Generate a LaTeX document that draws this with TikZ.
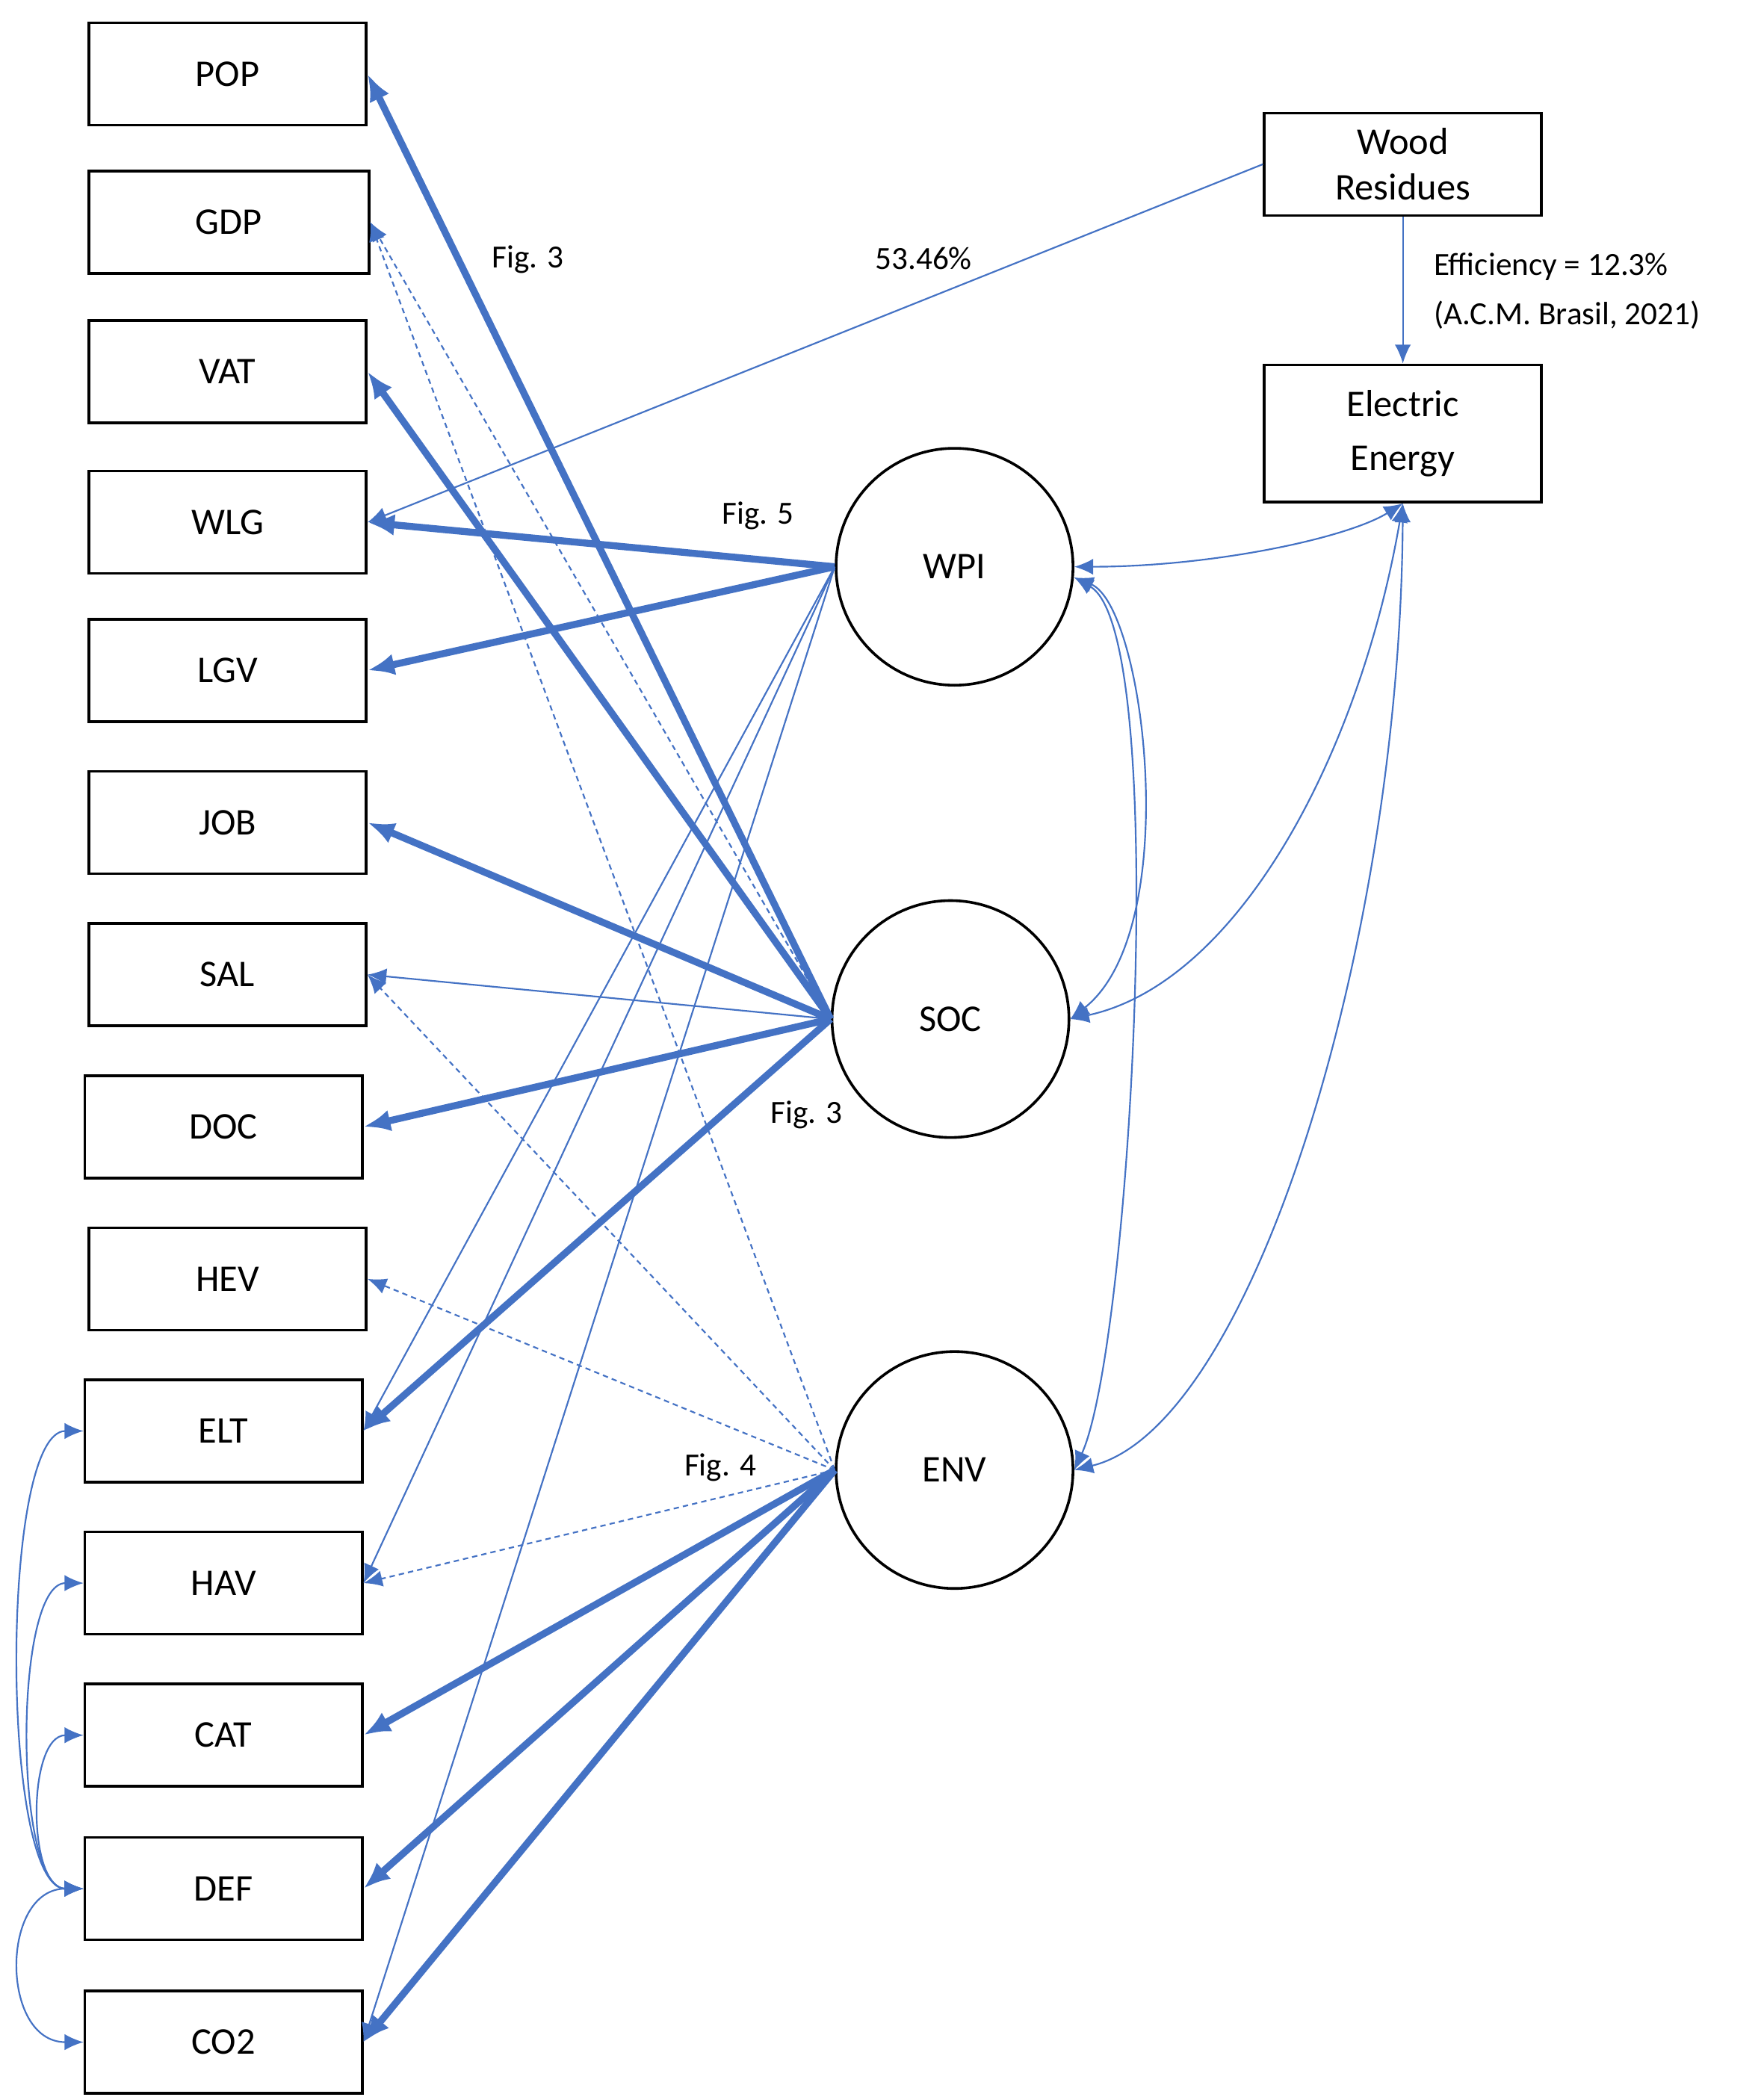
\documentclass[tikz,border=0pt]{standalone}
\usepackage{fontspec}
\setmainfont{Carlito}
\usetikzlibrary{arrows.meta}
\definecolor{lb}{RGB}{68,114,196}
\begin{document}
\begin{tikzpicture}[x=0.5pt,y=-0.5pt,
 box/.style={draw,line width=1pt,minimum width=103pt,minimum height=38pt,inner sep=0pt,font=\fontsize{14}{16}\selectfont},
 circ/.style={draw,circle,line width=1pt,minimum size=88pt,inner sep=0pt,font=\fontsize{14}{16}\selectfont},
 thick/.style={lb,line width=2.6pt,-{Latex[length=10pt,width=8pt]}},
 thin/.style={lb,line width=0.6pt,-{Latex[length=7pt,width=6pt]}},
 dsh/.style={thin,dash pattern=on 2pt off 1.5pt},
 bi/.style={lb,line width=0.6pt,{Latex[length=7pt,width=6pt]}-{Latex[length=7pt,width=6pt]}},
 lab/.style={font=\fontsize{12}{14}\selectfont}]
\useasboundingbox (0,0) rectangle (1310,1560);
\node[box] (POP) at (169,55) {POP};
\node[box,minimum width=104pt] (GDP) at (170,165) {GDP};
\node[box] (VAT) at (169,276) {VAT};
\node[box] (WLG) at (169,388) {WLG};
\node[box] (LGV) at (169,498) {LGV};
\node[box] (JOB) at (169,611) {JOB};
\node[box] (SAL) at (169,724) {SAL};
\node[box] (DOC) at (166,837) {DOC};
\node[box] (HEV) at (169,950) {HEV};
\node[box] (ELT) at (166,1063) {ELT};
\node[box] (HAV) at (166,1176) {HAV};
\node[box] (CAT) at (166,1289) {CAT};
\node[box] (DEF) at (166,1403) {DEF};
\node[box] (CO2) at (166,1517) {CO2};
\node[circ] (WPI) at (709,421) {WPI};
\node[circ] (SOC) at (706,757) {SOC};
\node[circ] (ENV) at (709,1092) {ENV};
\node[box,minimum width=103pt,minimum height=38pt,align=center,font=\fontsize{14}{17}\selectfont] (WR) at (1042,122) {Wood\\Residues};
\node[box,minimum width=103pt,minimum height=51pt,align=center,font=\fontsize{14}{20}\selectfont] (EE) at (1042,322) {Electric\\Energy};
% thick
\draw[thick] (SOC.west) -- (POP.east);
\draw[thick] (SOC.west) -- (VAT.east);
\draw[thick] (WPI.west) -- (WLG.east);
\draw[thick] (WPI.west) -- (LGV.east);
\draw[thick] (SOC.west) -- (JOB.east);
\draw[thick] (SOC.west) -- (DOC.east);
\draw[thick] (SOC.west) -- (ELT.east);
\draw[thick] (ENV.west) -- (CAT.east);
\draw[thick] (ENV.west) -- (DEF.east);
\draw[thick] (ENV.west) -- (CO2.east);
% thin
\draw[thin] (SOC.west) -- (SAL.east);
\draw[thin] (WPI.west) -- (ELT.east);
\draw[thin] (WPI.west) -- (HAV.east);
\draw[thin] (WPI.west) -- (CO2.east);
\draw[thin] (WR.west) -- (WLG.east);
\draw[thin] (WR.south) -- (EE.north);
% dashed
\draw[dsh] (SOC.west) -- (GDP.east);
\draw[dsh] (ENV.west) -- (GDP.east);
\draw[dsh] (ENV.west) -- (SAL.east);
\draw[dsh] (ENV.west) -- (HEV.east);
\draw[dsh] (ENV.west) -- (HAV.east);
% curves right
\draw[bi] (WPI.east) .. controls (900,421) and (1000,400) .. (EE.south);
\draw[bi] (SOC.east) .. controls (920,730) and (1010,560) .. (EE.south);
\draw[bi] (ENV.east) .. controls (930,1060) and (1040,700) .. (EE.south);
\draw[bi] ([yshift=-4pt]WPI.east) .. controls (850,450) and (880,690) .. (SOC.east);
\draw[bi] ([yshift=-4pt]WPI.east) .. controls (870,470) and (840,1000) .. (ENV.east);
% curves left
\draw[bi] (DEF.west) .. controls (0,1403) and (0,1063) .. (ELT.west);
\draw[bi] (DEF.west) .. controls (10,1403) and (10,1176) .. (HAV.west);
\draw[bi] (DEF.west) .. controls (20,1403) and (20,1289) .. (CAT.west);
\draw[bi] (DEF.west) .. controls (0,1403) and (0,1517) .. (CO2.west);
% labels
\node[lab] (l1) at (392,193) {Fig. 3};
\node[lab] (l2) at (686,192) {53.46\%};
\node[lab] (l3) at (563,383) {Fig. 5};
\node[lab] (l4) at (599,828) {Fig. 3};
\node[lab] (l5) at (535,1090) {Fig. 4};
\node[lab,anchor=west] (l6) at (1058,198) {Efficiency = 12.3\%};
\node[lab,anchor=west] (l7) at (1058,234) {(A.C.M. Brasil, 2021)};
\end{tikzpicture}
\end{document}
